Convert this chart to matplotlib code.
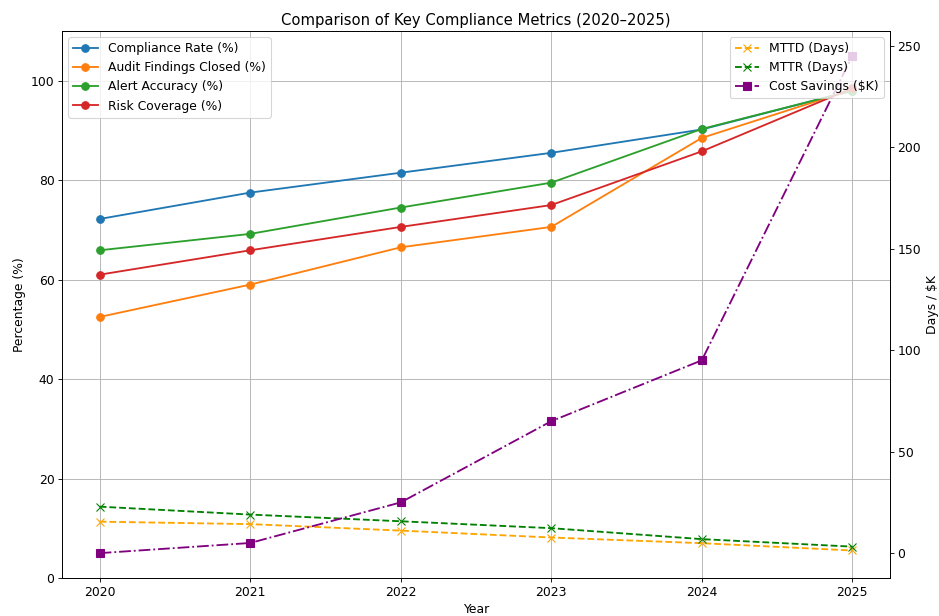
import matplotlib
matplotlib.use("Agg")
import matplotlib.pyplot as plt

# ── Data ──────────────────────────────────────────────────────────────────────
years = [2020, 2021, 2022, 2023, 2024, 2025]

compliance_rate = [72.2, 77.5, 81.5, 85.5, 90.2, 98.0]
audit_closed    = [52.5, 59.0, 66.5, 70.6, 88.5, 98.2]
alert_accuracy  = [65.9, 69.2, 74.5, 79.5, 90.3, 98.0]
risk_coverage   = [61.0, 65.9, 70.6, 75.0, 85.8, 98.5]

mttd_days    = [15.5, 14.3, 11.1, 7.7, 4.9, 1.3]
mttr_days    = [22.9, 19.0, 15.7, 12.3, 6.9, 3.2]
cost_savings = [0, 5, 25, 65, 95, 245]

plt.rcParams["font.size"] = 11.4
plt.rcParams["lines.linewidth"] = 1.7
plt.rcParams["lines.markersize"] = 7

# ── Plot ──────────────────────────────────────────────────────────────────────
DPI = 78
fig, ax1 = plt.subplots(figsize=(939 / DPI, 616 / DPI), dpi=DPI)
fig.subplots_adjust(left=62/939, right=890/939, bottom=1-578/616, top=1-31/616)

ax1.plot(years, compliance_rate, "o-", label="Compliance Rate (%)")
ax1.plot(years, audit_closed,    "o-", label="Audit Findings Closed (%)")
ax1.plot(years, alert_accuracy,  "o-", label="Alert Accuracy (%)")
ax1.plot(years, risk_coverage,   "o-", label="Risk Coverage (%)")
ax1.set_ylim(0, 110)
ax1.set_xlabel("Year")
ax1.set_ylabel("Percentage (%)")
ax1.grid(True)
ax1.legend(loc="upper left")

ax2 = ax1.twinx()
ax2.plot(years, mttd_days,    "x--", color="orange", label="MTTD (Days)")
ax2.plot(years, mttr_days,    "x--", color="green",  label="MTTR (Days)")
ax2.plot(years, cost_savings, "s-.", color="purple", label="Cost Savings (\\$K)")
ax2.set_ylabel("Days / \\$K")
ax2.legend(loc="upper right")

ax1.set_title("Comparison of Key Compliance Metrics (2020–2025)")
fig.savefig("out.png", dpi=DPI)
